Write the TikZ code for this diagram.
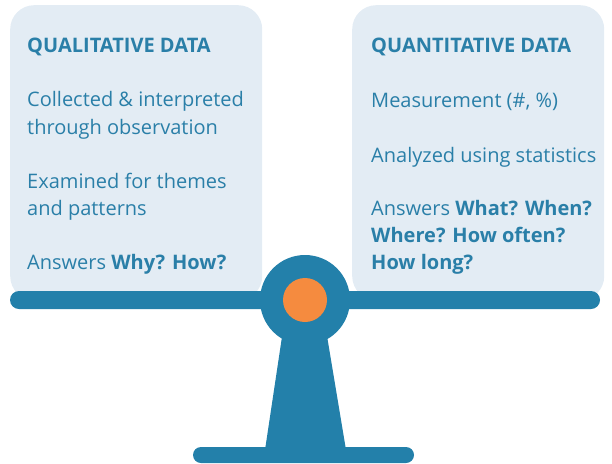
\documentclass[tikz,border=0pt]{standalone}
\usepackage{fontspec}
\setmainfont{Open Sans}
\definecolor{scaleblue}{HTML}{2380AA}
\definecolor{panelfill}{HTML}{E3ECF4}
\definecolor{hubor}{HTML}{F58B3F}
\definecolor{textblue}{HTML}{2A7FA8}
\begin{document}
\begin{tikzpicture}[x=1pt, y=-1pt,
    panel/.style={rectangle, rounded corners=24pt, fill=panelfill, minimum width=252pt, minimum height=295pt, anchor=north west, inner sep=0pt},
    heading/.style={anchor=base west, inner sep=0pt, font=\fontsize{20}{20}\selectfont\bfseries, text=textblue},
    body/.style={anchor=base west, inner sep=0pt, font=\fontsize{20}{20}\selectfont, text=textblue},
    boldbody/.style={body, font=\fontsize{20}{20}\selectfont\bfseries},
    bar/.style={rectangle, fill=scaleblue, inner sep=0pt}
]
    \useasboundingbox (0,0) rectangle (612,463);

    % Panels
    \node[panel] (qualbox) at (10,5) {};
    \node[panel] (quantbox) at (352,5) {};

    % Qualitative side
    \node[heading] (qualhead) at (27,52) {QUALITATIVE DATA};
    \node[body] (qualcollect) at (27,106) {Collected \& interpreted};
    \node[body] (qualcollect2) at (27,134) {through observation};
    \node[body] (qualexam) at (27,188) {Examined for themes};
    \node[body] (qualexam2) at (27,215) {and patterns};
    \node[body] (qualanswer) at (27,269) {Answers \textbf{Why? How?}};

    % Quantitative side
    \node[heading] (quanthead) at (371,52) {QUANTITATIVE DATA};
    \node[body] (quantmeasure) at (371,107) {Measurement (\#, \%)};
    \node[body] (quantstats) at (371,162) {Analyzed using statistics};
    \node[body] (quantanswer) at (371,215) {Answers \textbf{What? When?}};
    \node[boldbody] (quantanswer2) at (371,242) {Where? How often?};
    \node[boldbody] (quantanswer3) at (371,269) {How long?};

    % Scale
    \node[bar, rounded corners=9pt, minimum width=590pt, minimum height=18pt] (beam) at (305,300) {};
    \fill[scaleblue] (283,330) -- (326,330) -- (346,450) -- (265,450) -- cycle;
    \node[bar, rounded corners=8pt, minimum width=221pt, minimum height=16pt] (base) at (303.5,455) {};
    \node[circle, fill=scaleblue, minimum size=90pt, inner sep=0pt] (pivot) at (305,300) {};
    \node[circle, fill=hubor, minimum size=44pt, inner sep=0pt] (hub) at (pivot) {};
\end{tikzpicture}
\end{document}
